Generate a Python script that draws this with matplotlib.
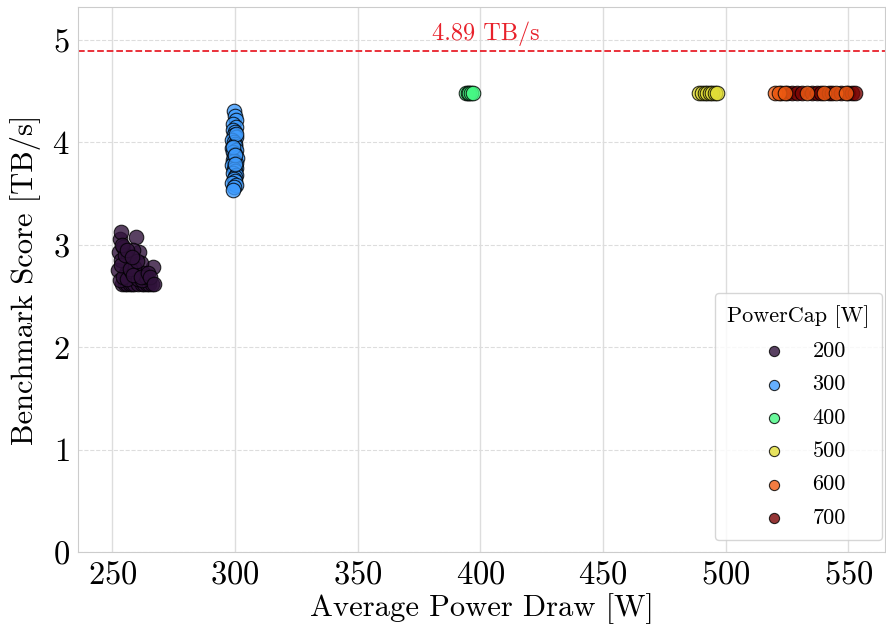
import numpy as np
import matplotlib
matplotlib.use('Agg')
import matplotlib.pyplot as plt

plt.rcParams['font.family'] = 'serif'
plt.rcParams['font.serif'] = ['cmr10']
plt.rcParams['mathtext.fontset'] = 'cm'
plt.rcParams['axes.formatter.use_mathtext'] = True

# power caps and their measured points (avg power draw [W], score [TB/s])
caps = [200, 300, 400, 500, 600, 700]

x200 = [252.5, 253.0, 253.6, 254.0, 255.0, 256.0, 257.0, 258.0, 259.0, 259.7, 260.5, 261.0,
        262.0, 263.0, 264.0, 265.0, 266.0, 266.6, 252.3, 253.5, 254.5, 255.5, 256.5, 257.5,
        258.5, 259.5, 261.5, 262.5, 253.0, 254.5, 256.0, 257.5, 259.0, 260.5, 262.0, 263.5,
        253.5, 255.0, 257.0, 258.5, 260.0, 261.5, 264.5, 265.5, 254.0, 256.0, 258.0, 267.0]
y200 = [2.93, 3.05, 3.12, 2.62, 2.62, 2.62, 2.62, 2.62, 2.62, 3.07, 2.62, 2.93,
        2.62, 2.62, 2.62, 2.62, 2.62, 2.78, 2.75, 2.85, 2.98, 2.72, 2.88, 2.80,
        2.95, 2.70, 2.82, 2.72, 2.65, 2.68, 2.66, 2.74, 2.78, 2.66, 2.65, 2.68,
        2.80, 2.90, 2.76, 2.70, 2.84, 2.68, 2.72, 2.68, 3.00, 2.95, 2.88, 2.62]

x300 = [299.5, 299.8, 300.2, 299.2, 300.5, 299.0, 300.0, 299.6, 300.3, 298.8,
        299.4, 300.1, 299.9, 298.7, 300.4, 299.3, 300.0, 299.7, 300.6, 299.1,
        299.5, 300.2, 298.9, 299.8, 300.4, 299.6, 300.1, 299.2, 300.3, 299.9,
        299.4, 300.0, 298.8, 300.5, 299.7, 299.3, 300.2, 299.0, 299.8, 300.1]
y300 = [4.30, 4.26, 4.22, 4.18, 4.15, 4.12, 4.10, 4.07, 4.05, 4.02,
        4.00, 3.98, 3.96, 3.94, 3.92, 3.90, 3.88, 3.86, 3.85, 3.83,
        3.82, 3.80, 3.78, 3.77, 3.75, 3.74, 3.72, 3.70, 3.68, 3.66,
        3.64, 3.62, 3.60, 3.58, 3.56, 3.53, 4.08, 3.95, 3.87, 3.79]

x400 = [394.0, 394.8, 395.5, 396.2, 396.8]
y400 = [4.48, 4.48, 4.48, 4.48, 4.48]

x500 = [489.0, 490.5, 491.5, 492.5, 493.5, 494.5, 495.5, 496.5]
y500 = [4.48, 4.48, 4.48, 4.48, 4.48, 4.48, 4.48, 4.48]

x600 = [520.0, 521.5, 524.0, 533.0, 540.0, 545.0, 549.0]
y600 = [4.48, 4.48, 4.48, 4.48, 4.48, 4.48, 4.48]

x700 = [522.5, 525.0, 527.0, 529.0, 531.0, 535.0, 537.0, 539.0, 542.0, 543.5,
        547.0, 550.0, 551.5, 552.5]
y700 = [4.48, 4.48, 4.48, 4.48, 4.48, 4.48, 4.48, 4.48, 4.48, 4.48,
        4.48, 4.48, 4.48, 4.48]

peak = 4.89

xs = [x200, x300, x400, x500, x600, x700]
ys = [y200, y300, y400, y500, y600, y700]
colors = plt.cm.turbo(np.linspace(0, 1, len(caps)))

fig, ax = plt.subplots(figsize=(8.87, 6.28), dpi=100)
fig.subplots_adjust(left=0.088, right=0.998, bottom=0.121, top=0.989)

ax.set_axisbelow(True)
ax.grid(axis='x', color='#dddddd', linewidth=1.0)
ax.grid(axis='y', color='#dddddd', linewidth=0.8, linestyle='--')
for sp in ax.spines.values():
    sp.set_color('#cccccc')

for cap, x, y, c in zip(caps, xs, ys, colors):
    z = 3 if cap == 600 else 2  # orange dots show on top of the red ones
    ax.scatter(x, y, s=110, color=c, alpha=0.8, edgecolor='black', linewidth=0.8,
               label=str(cap), zorder=z)

ax.axhline(peak, color='#e8212b', linestyle='--', linewidth=1.3)
ax.text(402, peak + 0.05, f'{peak} TB/s', color='#e8212b', fontsize=17.5, ha='center', va='bottom')

ax.set_xlim(236, 565)
ax.set_ylim(0, 5.32)
ax.set_xticks([250, 300, 350, 400, 450, 500, 550])
ax.set_yticks([0, 1, 2, 3, 4, 5])
ax.tick_params(labelsize=23.5, length=0, pad=6)
ax.set_xlabel('Average Power Draw [W]', fontsize=22, labelpad=3)
ax.set_ylabel('Benchmark Score [TB/s]', fontsize=22, labelpad=8)

leg = ax.legend(title='PowerCap [W]', loc='lower right', bbox_to_anchor=(0.996, 0.022),
                fontsize=16, title_fontsize=16, markerscale=0.7, labelspacing=0.62,
                handlelength=2.0, handletextpad=0.75, borderpad=0.55, borderaxespad=0,
                frameon=True)
leg.get_frame().set_edgecolor('#cccccc')

plt.savefig('out.png', dpi=100)
